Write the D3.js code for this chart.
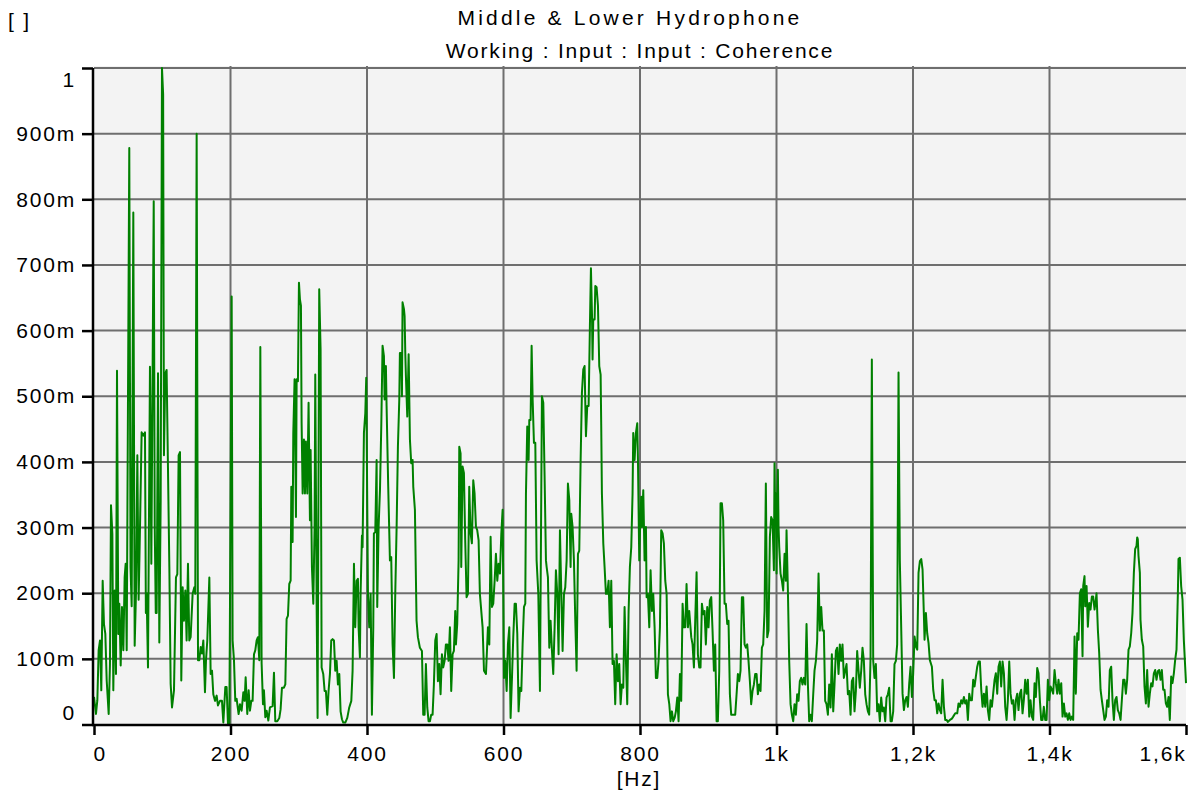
<!DOCTYPE html>
<html>
<head>
<meta charset="utf-8">
<script src="https://cdn.jsdelivr.net/npm/d3@7"></script>
<style>
  html, body { margin: 0; padding: 0; background: #ffffff; }
  svg { display: block; }
  text { font-family: "Liberation Sans", Arial, sans-serif; fill: #000; }
</style>
</head>
<body>
<svg id="chart" width="1196" height="796"></svg>
<script>
// ---- Chart text ----
const titleLines = ["Middle & Lower Hydrophone", "Working : Input : Input : Coherence"];
const yUnitLabel = "[ ]";
const xUnitLabel = "[Hz]";

// ---- Axis ticks ----
const xTicks = [0, 200, 400, 600, 800, 1000, 1200, 1400, 1600];
const xTickLabels = ["0", "200", "400", "600", "800", "1k", "1,2k", "1,4k", "1,6k"];
const yTicks = [0, 0.1, 0.2, 0.3, 0.4, 0.5, 0.6, 0.7, 0.8, 0.9, 1.0];
const yTickLabels = ["0", "100m", "200m", "300m", "400m", "500m", "600m", "700m", "800m", "900m", "1"];

// ---- Coherence spectrum: [frequency Hz, coherence] ----
const spectrum0to250 = [
[0,0.042],[2.9,0.016],[4.9,0.037],[6.8,0.113],[8.8,0.128],[10.7,0.052],[12.7,0.219],[14.6,0.153],[16.6,0.138],[18.6,0.067],
[21.5,0.016],[23.4,0.092],[24.9,0.334],[26.9,0.29],[28.3,0.052],[30.3,0.204],[32.2,0.077],[33.7,0.539],[35.6,0.138],[37.1,0.184],
[39.1,0.09],[41,0.179],[43,0.113],[44.9,0.224],[46.4,0.245],[47.9,0.113],[51.7,0.878],[53.5,0.24],[55.2,0.18],[57.6,0.78],
[59.6,0.12],[61.5,0.2],[63.5,0.41],[65.4,0.19],[67.4,0.3],[69.8,0.445],[72.3,0.44],[74.7,0.445],[76,0.17],[77.1,0.2],
[79.1,0.087],[82,0.545],[84,0.245],[87.5,0.797],[89,0.3],[90.5,0.17],[91.8,0.17],[93.8,0.535],[95.7,0.125],[97.7,0.34],
[99.6,1.0],[101.3,0.96],[102.5,0.41],[104.5,0.535],[106.4,0.54],[108.4,0.39],[110.4,0.24],[112.3,0.062],[114.3,0.026],[117.2,0.052],
[120.1,0.224],[122.1,0.229],[124,0.41],[126,0.415],[127.9,0.067],[129.9,0.209],[131.8,0.158],[133.8,0.204],[135.7,0.128],[137.7,0.245],
[139.6,0.128],[141.6,0.133],[144.5,0.199],[147,0.209],[148.4,0.199],[150.4,0.9],[152.4,0.098],[154.3,0.098],[156.3,0.118],[158.2,0.108],
[160.2,0.128],[162.6,0.049],[164.1,0.098],[166,0.128],[169,0.224],[170.9,0.077],[172.9,0.082],[174.8,0.046],[177.3,0.036],[179.7,0.044],
[181.6,0.029],[184.6,0.036],[187.5,0.036],[189.5,0.003],[192.4,0.057],[194.3,0.057],[196.3,0.001],[198.3,0.001],[201.7,0.652],[203.1,0.128],
[205.1,0.098],[207,0.036],[209,0.039],[211.9,0.016],[213.9,0.031],[216.3,0.021],[218.8,0.049],[220.7,0.036],[222.2,0.072],[224.6,0.016],
[226.6,0.052],[228.5,0.021],[230.5,0.036],[232.4,0.036],[234.4,0.107],[236.3,0.113],[238.3,0.128],[240.2,0.133],[242.2,0.098],[243.7,0.575],
[245.6,0.093],[247.6,0.031],[249,0.052],[251,0.011],[252.9,0.021],[255.4,0.006]
];
const spectrum250to570 = [
[257.8,0.026],[261.7,0.028],[263.7,0.079],[265.6,0.005],[268.5,0.005],[271.5,0.01],[273.4,0.023],[275.4,0.056],[278.3,0.056],[280.3,0.061],
[282.2,0.161],[284.2,0.166],[286.1,0.214],[288.1,0.219],[289.1,0.362],[291,0.278],[292,0.444],[293.9,0.526],[295.9,0.316],[296.9,0.526],
[298.8,0.523],[300.3,0.673],[301.7,0.648],[303.2,0.638],[304.2,0.459],[305.7,0.352],[307.6,0.434],[309.1,0.352],[310.5,0.431],[312.5,0.352],
[314.4,0.49],[316.4,0.311],[317.4,0.418],[319.3,0.24],[321.3,0.184],[323.2,0.301],[324.2,0.533],[326.2,0.184],[327.6,0.01],[330,0.663],
[332,0.571],[333.5,0.087],[335.9,0.077],[337.9,0.051],[339.8,0.051],[341.8,0.015],[343.7,0.051],[345.7,0.077],[347.6,0.128],[349.6,0.13],
[351.6,0.128],[353.5,0.082],[355.5,0.097],[357.4,0.061],[359.4,0.077],[361.3,0.02],[363.3,0.008],[365.2,0.003],[368.2,0.003],[371.1,0.01],
[374,0.026],[377,0.036],[378.9,0.082],[380.9,0.245],[382.8,0.148],[384.8,0.219],[386.7,0.222],[387.7,0.148],[389.6,0.102],[390.6,0.199],
[392.6,0.288],[393.5,0.27],[395.5,0.444],[397.5,0.474],[398.9,0.528],[401.4,0.199],[403.3,0.148],[405.3,0.199],[407.2,0.015],[409.2,0.148],
[410.1,0.291],[412.1,0.293],[414.1,0.403],[415,0.179],[417,0.301],[419,0.357],[420.9,0.454],[422.8,0.577],[424.8,0.561],[425.8,0.495],
[427.7,0.546],[428.7,0.485],[431.1,0.362],[433.6,0.25],[435.5,0.255],[437.5,0.122],[439.5,0.071],[441.4,0.199],[443.4,0.301],[445.3,0.423],
[447.3,0.495],[448.2,0.566],[450.2,0.566],[451.2,0.5],[452.1,0.643],[454.1,0.633],[455.1,0.622],[456.1,0.566],[457,0.531],[459,0.469],
[461,0.564],[462.9,0.434],[464.8,0.398],[466.8,0.403],[467.8,0.362],[470.2,0.327],[472.6,0.158],[474.6,0.133],[477.5,0.117],[480.5,0.112],
[482.4,0.015],[484.4,0.015],[486.3,0.092],[488.3,0.026],[490.2,0.005],[492.2,0.005],[494.1,0.015],[496.1,0.015],[498,0.061],[500,0.128],
[502,0.138],[503.9,0.066],[505.9,0.092],[507.8,0.046],[509.8,0.107],[511.7,0.087],[513.7,0.097],[515.6,0.122],[517.6,0.122],[519.5,0.097],
[521.5,0.148],[523.4,0.051],[525.4,0.107],[527.3,0.112],[529.3,0.173],[530.3,0.122],[532.2,0.153],[534.2,0.25],[535.2,0.423],[537.1,0.413],
[538.1,0.24],[540,0.393],[542,0.383],[543.9,0.281],[545.9,0.194],[547.9,0.199],[549.8,0.362],[551.8,0.291],[553.7,0.276],[555.7,0.372],
[557.6,0.352],[559.6,0.301],[561.5,0.296],[563.5,0.281],[565.4,0.199]
];
const spectrum570to875 = [
[569.4,0.148],[571.4,0.082],[574.3,0.077],[577.2,0.148],[579.2,0.122],[581.1,0.286],[583.1,0.179],[585,0.184],[587,0.219],[588.9,0.26],
[590.9,0.219],[592.8,0.245],[594.8,0.23],[596.8,0.291],[598.7,0.327],[599.7,0.199],[600.7,0.071],[602.6,0.097],[604.6,0.051],[606.5,0.122],
[608.5,0.148],[610.4,0.01],[612.4,0.071],[614.3,0.133],[616.3,0.184],[618.2,0.184],[620.2,0.138],[622.1,0.02],[624.1,0.056],[626.1,0.051],
[628,0.122],[630,0.179],[631.9,0.184],[632.9,0.352],[634.8,0.454],[636.8,0.403],[637.8,0.464],[639.7,0.464],[641.2,0.577],[642.7,0.495],
[644.6,0.429],[646.6,0.429],[648.5,0.25],[651,0.199],[653.4,0.051],[656.3,0.5],[658.3,0.49],[660.2,0.378],[662.2,0.25],[663.2,0.24],
[665.1,0.224],[667.1,0.117],[669,0.158],[671,0.112],[672.9,0.077],[674.9,0.148],[676.8,0.235],[678.8,0.199],[680.7,0.107],[682.7,0.296],
[684.6,0.204],[686.6,0.112],[688.6,0.199],[690.5,0.209],[692.5,0.25],[694.4,0.367],[696.4,0.342],[698.3,0.24],[699.3,0.321],[701.2,0.301],
[703.2,0.25],[705.2,0.158],[707.1,0.082],[709.1,0.26],[711,0.265],[713,0.403],[714.9,0.505],[716.9,0.541],[718.8,0.546],[720.8,0.439],
[722.7,0.485],[724.7,0.485],[726.6,0.607],[728.1,0.695],[729.6,0.628],[730.5,0.556],[731.5,0.617],[733.5,0.617],[734.5,0.668],[736.4,0.666],
[738.4,0.638],[740.3,0.546],[742.3,0.533],[743.2,0.454],[744.2,0.352],[746.2,0.276],[748.1,0.24],[750.1,0.199],[752,0.199],[754,0.219],
[755.9,0.148],[757.9,0.219],[759.8,0.092],[761.8,0.097],[763.7,0.031],[765.7,0.107],[767.7,0.066],[769.6,0.092],[771.6,0.031],[773.5,0.061],
[775.5,0.056],[777.4,0.179],[779.4,0.097],[781.3,0.031],[783.3,0.173],[785.2,0.24],[787.2,0.27],[789.1,0.352],[790.1,0.444],[792.1,0.403],
[794,0.444],[796,0.459],[797,0.403],[798.9,0.25],[799.9,0.291],[801.8,0.347],[802.8,0.301],[804.8,0.357],[806.7,0.25],[808.7,0.301],
[809.7,0.194],[811.6,0.199],[813.6,0.148],[815.5,0.235],[817.5,0.173],[819.4,0.199],[821.4,0.148],[823.3,0.071],[825.3,0.071],[827.2,0.097],
[829.2,0.148],[831.1,0.296],[833.1,0.291],[835,0.276],[837,0.219],[839,0.199],[840.9,0.046],[842.9,0.031],[844.8,0.005],[846.8,0.02],
[848.7,0.005],[850.7,0.01],[852.6,0.02],[854.6,0.041],[856.5,0.005],[858.5,0.077],[860.4,0.036],[862.4,0.184],[864.3,0.148],[866.3,0.148],
[868.2,0.214],[870.2,0.148],[872.1,0.173]
];
const spectrum875to1185 = [
[875.1,0.133],[877,0.122],[879,0.087],[880.9,0.158],[882.9,0.232],[884.8,0.107],[886.8,0.087],[888.7,0.087],[890.7,0.184],[892.6,0.168],
[894.6,0.173],[896.5,0.122],[898.5,0.179],[900.4,0.148],[902.4,0.189],[904.4,0.194],[906.3,0.143],[908.3,0.082],[910.2,0.122],[912.2,0.005],
[914.1,0.005],[916.1,0.082],[918,0.337],[920,0.337],[921.9,0.311],[923.9,0.184],[925.8,0.184],[927.8,0.153],[929.7,0.158],[931.7,0.046],
[933.6,0.015],[935.6,0.015],[937.6,0.015],[939.5,0.015],[941.5,0.046],[943.4,0.077],[945.4,0.066],[947.3,0.082],[949.3,0.194],[951.2,0.194],
[953.2,0.122],[955.1,0.117],[957.1,0.122],[959,0.097],[961,0.066],[962.9,0.031],[964.9,0.051],[966.9,0.061],[968.8,0.077],[970.8,0.077],
[972.7,0.046],[974.7,0.061],[976.6,0.051],[978.6,0.117],[980.5,0.122],[982.5,0.173],[984.4,0.367],[986.4,0.133],[988.3,0.143],[990.3,0.286],
[992.2,0.316],[994.2,0.311],[996.2,0.235],[997.1,0.398],[998.1,0.301],[999.1,0.352],[1000.1,0.23],[1001,0.342],[1002,0.388],[1003,0.301],
[1004,0.27],[1005.9,0.23],[1007.9,0.219],[1009.8,0.204],[1011.8,0.26],[1013.7,0.219],[1014.7,0.296],[1016.7,0.204],[1018.6,0.097],[1020.6,0.031],
[1022.5,0.015],[1024.5,0.005],[1026.4,0.031],[1028.4,0.015],[1030.3,0.046],[1032.3,0.036],[1034.2,0.066],[1036.2,0.071],[1038.1,0.061],[1040.1,0.071],
[1042.1,0.061],[1044,0.153],[1046,0.061],[1047.9,0.005],[1049.9,0.015],[1051.8,0.005],[1053.8,0.046],[1055.7,0.082],[1057.7,0.097],[1059.6,0.128],
[1061.6,0.23],[1063.5,0.143],[1065.5,0.179],[1067.4,0.143],[1069.4,0.143],[1071.3,0.036],[1073.3,0.031],[1075.3,0.015],[1077.2,0.061],[1079.2,0.026],
[1081.1,0.107],[1083.1,0.02],[1085,0.061],[1087,0.112],[1088.9,0.117],[1090.9,0.077],[1092.8,0.122],[1094.8,0.097],[1096.7,0.122],[1098.7,0.071],
[1100.7,0.082],[1102.6,0.092],[1104.6,0.046],[1106.5,0.051],[1108.5,0.015],[1110.4,0.066],[1112.4,0.071],[1114.3,0.02],[1116.3,0.051],[1118.2,0.112],
[1120.2,0.082],[1122.1,0.056],[1124.1,0.082],[1126,0.117],[1128,0.097],[1130,0.046],[1131.9,0.031],[1133.9,0.02],[1135.8,0.015],[1137.8,0.102],
[1139.7,0.556],[1141.7,0.097],[1143.6,0.071],[1145.6,0.092],[1147.5,0.02],[1149.5,0.031],[1151.4,0.005],[1153.4,0.041],[1155.3,0.02],[1157.3,0.026],
[1159.3,0.005],[1161.2,0.041],[1163.2,0.046],[1165.1,0.056],[1167.1,0.005],[1169,0.005],[1171,0.02],[1172.9,0.092],[1174.9,0.097],[1176.8,0.122],
[1178.8,0.536],[1180.7,0.25]
];
const spectrum1185to1600 = [
[1184.7,0.047],[1186.7,0.022],[1188.6,0.037],[1190.6,0.042],[1192.5,0.027],[1194.5,0.063],[1196.4,0.088],[1198.4,0.042],[1200.3,0.078],[1202.3,0.134],
[1204.2,0.119],[1206.2,0.114],[1208.1,0.231],[1210.1,0.249],[1212.1,0.252],[1214,0.236],[1216,0.165],[1216.9,0.129],[1218.9,0.17],[1220.8,0.139],
[1222.8,0.124],[1224.7,0.098],[1227.7,0.088],[1229.6,0.053],[1231.6,0.037],[1233.5,0.037],[1235.5,0.017],[1237.4,0.032],[1239.4,0.022],[1241.3,0.017],
[1243.3,0.068],[1245.3,0.027],[1247.2,0.007],[1249.2,0.007],[1251.1,0.004],[1254.1,0.007],[1257,0.009],[1258.9,0.012],[1261.9,0.017],[1264.8,0.017],
[1266.7,0.032],[1268.7,0.027],[1270.6,0.037],[1272.6,0.032],[1274.6,0.042],[1276.5,0.032],[1278.5,0.037],[1280.4,0.007],[1282.4,0.047],[1284.3,0.037],
[1286.3,0.037],[1288.2,0.068],[1290.2,0.058],[1292.1,0.073],[1294.1,0.088],[1296,0.096],[1298,0.096],[1300,0.053],[1301.9,0.027],[1303.9,0.047],
[1305.8,0.027],[1307.8,0.058],[1309.7,0.022],[1311.7,0.007],[1313.6,0.037],[1315.6,0.027],[1317.5,0.047],[1319.5,0.068],[1321.4,0.078],[1323.4,0.047],
[1325.3,0.088],[1327.3,0.096],[1329.2,0.058],[1331.2,0.096],[1333.2,0.078],[1335.1,0.027],[1337.1,0.007],[1339,0.037],[1341,0.096],[1342.9,0.047],
[1344.9,0.032],[1346.8,0.037],[1348.8,0.007],[1350.7,0.037],[1352.7,0.047],[1354.6,0.022],[1356.6,0.047],[1358.5,0.053],[1360.5,0.017],[1362.4,0.037],
[1364.4,0.068],[1366.4,0.047],[1368.3,0.068],[1370.3,0.012],[1372.2,0.037],[1374.2,0.012],[1376.1,0.007],[1378.1,0.063],[1380,0.042],[1382,0.086],
[1383.9,0.078],[1385.9,0.037],[1387.8,0.007],[1389.8,0.007],[1391.7,0.027],[1393.7,0.007],[1395.7,0.007],[1397.6,0.068],[1399.6,0.037],[1401.5,0.058],
[1403.5,0.053],[1405.4,0.047],[1407.4,0.083],[1409.3,0.063],[1411.3,0.047],[1413.2,0.068],[1415.2,0.047],[1417.2,0.063],[1419.1,0.012],[1421.1,0.032],
[1423,0.012],[1425,0.017],[1426.9,0.007],[1428.9,0.017],[1430.8,0.007],[1432.8,0.012],[1434.7,0.007],[1436.7,0.134],[1438.6,0.047],[1440.6,0.139],
[1442.5,0.129],[1444.5,0.2],[1446.4,0.206],[1448.4,0.104],[1449.4,0.211],[1451.3,0.226],[1452.3,0.18],[1454.3,0.211],[1456.2,0.149],[1458.2,0.185],
[1460.1,0.175],[1462.1,0.195],[1464,0.195],[1466,0.175],[1467.9,0.19],[1468.9,0.2],[1470.9,0.144],[1472.8,0.109],[1474.8,0.053],[1476.7,0.037],
[1478.7,0.022],[1480.6,0.007],[1482.6,0.012],[1484.5,0.037],[1486.5,0.027],[1488.4,0.083],[1490.4,0.088],[1492.3,0.037],[1494.3,0.007],[1496.2,0.037],
[1498.2,0.042],[1500.1,0.022],[1502.1,0.017],[1504.1,0.007],[1506,0.037],[1508,0.068],[1509.9,0.068],[1511.9,0.047],[1513.8,0.068],[1515.8,0.114],
[1517.7,0.119],[1519.7,0.139],[1521.6,0.17],[1523.6,0.231],[1525.5,0.267],[1527.5,0.272],[1528.5,0.285],[1529.4,0.282],[1530.4,0.257],[1532.4,0.231],
[1533.3,0.16],[1535.3,0.129],[1537.3,0.119],[1539.2,0.058],[1541.2,0.032],[1543.1,0.083],[1545.1,0.027],[1547,0.047],[1549,0.063],[1550.9,0.058],
[1552.9,0.078],[1554.8,0.083],[1556.8,0.068],[1558.7,0.081],[1560.7,0.083],[1562.7,0.068],[1564.6,0.083],[1566.6,0.053],[1568.5,0.053],[1570.5,0.032],
[1572.4,0.027],[1574.4,0.042],[1576.3,0.007],[1578.3,0.073],[1580.2,0.063],[1582.2,0.078],[1584.1,0.098],[1586.1,0.114],[1588.1,0.2],[1589,0.252],
[1591,0.254],[1592.9,0.211],[1594.9,0.19],[1596.8,0.129],[1598.8,0.088],[1600,0.063]
];

const spectrum = [].concat(spectrum0to250, spectrum250to570, spectrum570to875, spectrum875to1185, spectrum1185to1600);

// ---- Layout ----
const W = 1196, H = 796;
const plot = { left: 94, right: 1186, top: 68, bottom: 724.5 };
const fontSize = 21;
const letterSp = 1.8;

const svg = d3.select("#chart");
svg.append("rect").attr("width", W).attr("height", H).attr("fill", "#ffffff");

const x = d3.scaleLinear().domain([0, 1600]).range([plot.left, plot.right]);
const y = d3.scaleLinear().domain([0, 1]).range([plot.bottom, plot.top]);

// plot background
svg.append("rect")
  .attr("x", plot.left - 1).attr("y", plot.top - 2)
  .attr("width", plot.right - plot.left + 1).attr("height", plot.bottom - plot.top + 2)
  .attr("fill", "#f3f3f3");

// grid
const grid = svg.append("g").attr("stroke", "#6e6e6e").attr("stroke-width", 2);
grid.selectAll("line.h").data(yTicks.filter(d => d > 0)).join("line")
  .attr("x1", plot.left).attr("x2", plot.right)
  .attr("y1", d => y(d)).attr("y2", d => y(d));
grid.selectAll("line.v").data(xTicks.filter(d => d > 0 && d < 1600)).join("line")
  .attr("y1", plot.top - 2).attr("y2", plot.bottom)
  .attr("x1", d => x(d)).attr("x2", d => x(d));

// data line
const line = d3.line().x(d => x(d[0])).y(d => y(d[1]));
svg.append("path")
  .datum(spectrum)
  .attr("fill", "none")
  .attr("stroke", "#008000")
  .attr("stroke-width", 2)
  .attr("stroke-linejoin", "round")
  .attr("d", line);

// axes
const yAxis = d3.axisLeft(y).tickValues(yTicks)
  .tickFormat((d, i) => yTickLabels[i]).tickSize(11).tickPadding(6);
const gy = svg.append("g").attr("transform", `translate(${plot.left - 1},0)`).call(yAxis);

const xAxis = d3.axisBottom(x).tickValues(xTicks)
  .tickFormat((d, i) => xTickLabels[i]).tickSize(10).tickPadding(11);
const gx = svg.append("g").attr("transform", `translate(0,${plot.bottom + 0.5})`).call(xAxis);

[gx, gy].forEach(g => {
  g.select(".domain").attr("stroke", "#000").attr("stroke-width", 2.5);
  g.selectAll(".tick line").attr("stroke", "#000").attr("stroke-width", 2.5);
  g.selectAll(".tick text")
    .attr("font-family", '"Liberation Sans", Arial, sans-serif')
    .attr("font-size", fontSize).attr("fill", "#000")
    .style("letter-spacing", letterSp + "px");
});
gy.select(".domain").attr("d", `M0,${plot.top}V${plot.bottom + 1}`);
gx.select(".domain").attr("d", `M${plot.left - 2},0H${plot.right}`);

// shift end labels inward (as in the reference)
gy.selectAll(".tick text").attr("dy", (d) => d === 0 ? "-0.22em" : (d === 1 ? "0.9em" : "0.32em"));
gx.selectAll(".tick text")
  .attr("text-anchor", d => d === 0 ? "start" : (d === 1600 ? "end" : "middle"))
  .attr("dx", d => d === 0 ? -1 : 0);

// titles
svg.append("text").attr("x", 630).attr("y", 25).attr("text-anchor", "middle")
  .attr("font-size", fontSize).style("letter-spacing", "3.2px").text(titleLines[0]);
svg.append("text").attr("x", 640).attr("y", 58).attr("text-anchor", "middle")
  .attr("font-size", fontSize).style("letter-spacing", "1.8px").text(titleLines[1]);
svg.append("text").attr("x", 8).attr("y", 28).attr("text-anchor", "start")
  .attr("font-size", fontSize).style("letter-spacing", letterSp + "px").text(yUnitLabel);
svg.append("text").attr("x", 639).attr("y", 786).attr("text-anchor", "middle")
  .attr("font-size", fontSize).style("letter-spacing", letterSp + "px").text(xUnitLabel);
</script>
</body>
</html>
